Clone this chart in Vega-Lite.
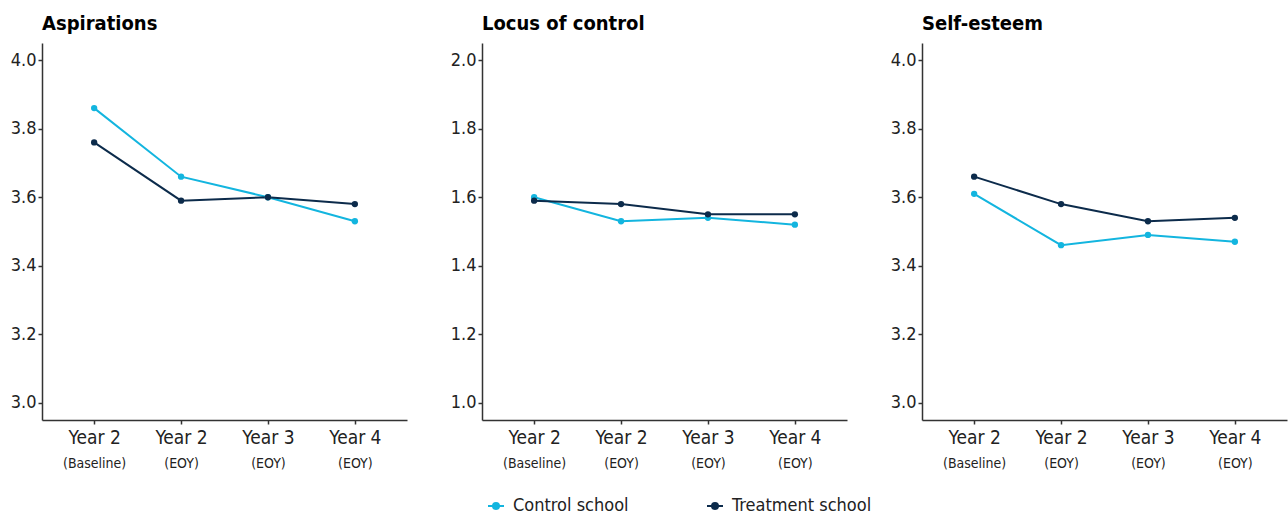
{
  "$schema": "https://vega.github.io/schema/vega-lite/v6.json",
  "padding": {"left": 10, "top": 14, "right": 2, "bottom": 5},
  "background": "white",
  "data": {"values": [
    {"measure": "Aspirations", "period": "Year 2|(Baseline)", "group": "Control school", "value": 3.86},
    {"measure": "Aspirations", "period": "Year 2|(EOY)", "group": "Control school", "value": 3.66},
    {"measure": "Aspirations", "period": "Year 3|(EOY)", "group": "Control school", "value": 3.60},
    {"measure": "Aspirations", "period": "Year 4|(EOY)", "group": "Control school", "value": 3.53},
    {"measure": "Aspirations", "period": "Year 2|(Baseline)", "group": "Treatment school", "value": 3.76},
    {"measure": "Aspirations", "period": "Year 2|(EOY)", "group": "Treatment school", "value": 3.59},
    {"measure": "Aspirations", "period": "Year 3|(EOY)", "group": "Treatment school", "value": 3.60},
    {"measure": "Aspirations", "period": "Year 4|(EOY)", "group": "Treatment school", "value": 3.58},
    {"measure": "Locus of control", "period": "Year 2|(Baseline)", "group": "Control school", "value": 1.60},
    {"measure": "Locus of control", "period": "Year 2|(EOY)", "group": "Control school", "value": 1.53},
    {"measure": "Locus of control", "period": "Year 3|(EOY)", "group": "Control school", "value": 1.54},
    {"measure": "Locus of control", "period": "Year 4|(EOY)", "group": "Control school", "value": 1.52},
    {"measure": "Locus of control", "period": "Year 2|(Baseline)", "group": "Treatment school", "value": 1.59},
    {"measure": "Locus of control", "period": "Year 2|(EOY)", "group": "Treatment school", "value": 1.58},
    {"measure": "Locus of control", "period": "Year 3|(EOY)", "group": "Treatment school", "value": 1.55},
    {"measure": "Locus of control", "period": "Year 4|(EOY)", "group": "Treatment school", "value": 1.55},
    {"measure": "Self-esteem", "period": "Year 2|(Baseline)", "group": "Control school", "value": 3.61},
    {"measure": "Self-esteem", "period": "Year 2|(EOY)", "group": "Control school", "value": 3.46},
    {"measure": "Self-esteem", "period": "Year 3|(EOY)", "group": "Control school", "value": 3.49},
    {"measure": "Self-esteem", "period": "Year 4|(EOY)", "group": "Control school", "value": 3.47},
    {"measure": "Self-esteem", "period": "Year 2|(Baseline)", "group": "Treatment school", "value": 3.66},
    {"measure": "Self-esteem", "period": "Year 2|(EOY)", "group": "Treatment school", "value": 3.58},
    {"measure": "Self-esteem", "period": "Year 3|(EOY)", "group": "Treatment school", "value": 3.53},
    {"measure": "Self-esteem", "period": "Year 4|(EOY)", "group": "Treatment school", "value": 3.54}
  ]},
  "spacing": 43,
  "hconcat": [
    {
      "title": "Aspirations",
      "width": 365, "height": 377,
      "transform": [{"filter": "datum.measure === 'Aspirations'"}],
      "layer": [
        {"mark": {"type": "line", "strokeWidth": 2},
         "encoding": {
           "x": {"field": "period", "type": "nominal", "sort": ["Year 2|(Baseline)", "Year 2|(EOY)", "Year 3|(EOY)", "Year 4|(EOY)"], "scale": {"type": "point", "padding": 0.6}, "axis": {"orient": "bottom", "labelExpr": "split(datum.label, '|')[0]", "labelFontSize": 19, "labelPadding": 4, "labelBaseline": "top"}},
           "y": {"field": "value", "type": "quantitative", "scale": {"domain": [2.95, 4.05], "nice": false, "zero": false}, "axis": {"values": [3.0, 3.2, 3.4, 3.6, 3.8, 4.0], "format": ".1f"}},
           "color": {"field": "group", "type": "nominal"}
         }},
        {"mark": {"type": "point", "filled": true, "size": 40, "opacity": 1},
         "encoding": {
           "x": {"field": "period", "type": "nominal", "sort": ["Year 2|(Baseline)", "Year 2|(EOY)", "Year 3|(EOY)", "Year 4|(EOY)"], "axis": {"orient": "bottom", "labelExpr": "split(datum.label, '|')[1]", "labelFontSize": 14, "labelPadding": 36, "labelBaseline": "top", "domain": false, "ticks": false}},
           "y": {"field": "value", "type": "quantitative"},
           "color": {"field": "group", "type": "nominal"}
         }}
      ],
      "resolve": {"axis": {"x": "independent"}}
    },
    {
      "title": "Locus of control",
      "width": 365, "height": 377,
      "transform": [{"filter": "datum.measure === 'Locus of control'"}],
      "layer": [
        {"mark": {"type": "line", "strokeWidth": 2},
         "encoding": {
           "x": {"field": "period", "type": "nominal", "sort": ["Year 2|(Baseline)", "Year 2|(EOY)", "Year 3|(EOY)", "Year 4|(EOY)"], "scale": {"type": "point", "padding": 0.6}, "axis": {"orient": "bottom", "labelExpr": "split(datum.label, '|')[0]", "labelFontSize": 19, "labelPadding": 4, "labelBaseline": "top"}},
           "y": {"field": "value", "type": "quantitative", "scale": {"domain": [0.95, 2.05], "nice": false, "zero": false}, "axis": {"values": [1.0, 1.2, 1.4, 1.6, 1.8, 2.0], "format": ".1f"}},
           "color": {"field": "group", "type": "nominal"}
         }},
        {"mark": {"type": "point", "filled": true, "size": 40, "opacity": 1},
         "encoding": {
           "x": {"field": "period", "type": "nominal", "sort": ["Year 2|(Baseline)", "Year 2|(EOY)", "Year 3|(EOY)", "Year 4|(EOY)"], "axis": {"orient": "bottom", "labelExpr": "split(datum.label, '|')[1]", "labelFontSize": 14, "labelPadding": 36, "labelBaseline": "top", "domain": false, "ticks": false}},
           "y": {"field": "value", "type": "quantitative"},
           "color": {"field": "group", "type": "nominal"}
         }}
      ],
      "resolve": {"axis": {"x": "independent"}}
    },
    {
      "title": "Self-esteem",
      "width": 365, "height": 377,
      "transform": [{"filter": "datum.measure === 'Self-esteem'"}],
      "layer": [
        {"mark": {"type": "line", "strokeWidth": 2},
         "encoding": {
           "x": {"field": "period", "type": "nominal", "sort": ["Year 2|(Baseline)", "Year 2|(EOY)", "Year 3|(EOY)", "Year 4|(EOY)"], "scale": {"type": "point", "padding": 0.6}, "axis": {"orient": "bottom", "labelExpr": "split(datum.label, '|')[0]", "labelFontSize": 19, "labelPadding": 4, "labelBaseline": "top"}},
           "y": {"field": "value", "type": "quantitative", "scale": {"domain": [2.95, 4.05], "nice": false, "zero": false}, "axis": {"values": [3.0, 3.2, 3.4, 3.6, 3.8, 4.0], "format": ".1f"}},
           "color": {"field": "group", "type": "nominal"}
         }},
        {"mark": {"type": "point", "filled": true, "size": 40, "opacity": 1},
         "encoding": {
           "x": {"field": "period", "type": "nominal", "sort": ["Year 2|(Baseline)", "Year 2|(EOY)", "Year 3|(EOY)", "Year 4|(EOY)"], "axis": {"orient": "bottom", "labelExpr": "split(datum.label, '|')[1]", "labelFontSize": 14, "labelPadding": 36, "labelBaseline": "top", "domain": false, "ticks": false}},
           "y": {"field": "value", "type": "quantitative"},
           "color": {"field": "group", "type": "nominal"}
         }}
      ],
      "resolve": {"axis": {"x": "independent"}}
    }
  ],
  "resolve": {"scale": {"color": "shared"}},
  "config": {
    "font": "DejaVu Sans Condensed, Roboto",
    "view": {"stroke": null},
    "range": {"category": ["#13B5DF", "#0C2B4B"]},
    "title": {"font": "DejaVu Sans Condensed, Roboto", "fontWeight": "bold", "fontSize": 20, "anchor": "start", "color": "#000000", "offset": 9, "frame": "group"},
    "axis": {"grid": false, "title": null, "labelFont": "DejaVu Sans Condensed, Roboto", "labelColor": "#222222", "labelFontSize": 18, "domainColor": "#333333", "domainWidth": 1.5, "tickColor": "#333333", "tickSize": 4, "tickWidth": 1.5, "labelAngle": 0},
    "axisY": {"labelPadding": 2},
    "legend": {
      "orient": "none", "legendX": 445, "legendY": 454, "direction": "horizontal", "title": null,
      "labelFont": "DejaVu Sans Condensed, Roboto", "labelFontSize": 18, "labelColor": "#222222",
      "symbolType": "M-1,0L1,0M-0.375,0A0.375,0.375,0,1,1,0.375,0A0.375,0.375,0,1,1,-0.375,0Z",
      "symbolSize": 256, "symbolStrokeWidth": 2, "columnPadding": 74, "labelOffset": 8
    }
  }
}
